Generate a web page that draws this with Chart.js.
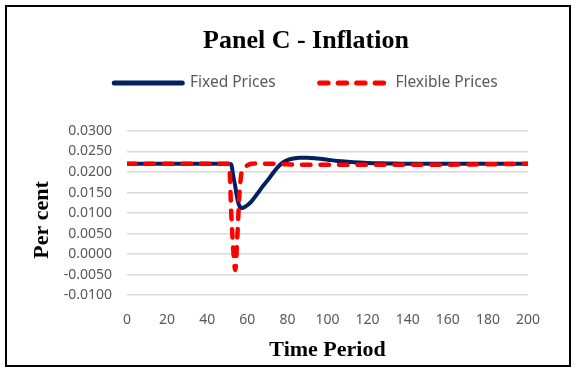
<!DOCTYPE html>
<html>
<head>
<meta charset="utf-8">
<title>Panel C - Inflation</title>
<script src="https://cdn.jsdelivr.net/npm/chart.js@4/dist/chart.umd.min.js"></script>
<style>
  html, body { margin: 0; padding: 0; background: #fff; overflow: hidden; }
  #wrap { position: relative; width: 577px; height: 369px; background: #fff; overflow: hidden; }
  #chart { position: absolute; left: 0; top: 0; }
  #frame { position: absolute; left: 5px; top: 5px; width: 562px; height: 358px;
           border: 2px solid #000; pointer-events: none; }
</style>
</head>
<body>
<div id="wrap">
  <canvas id="chart" width="586" height="369"></canvas>
  <div id="frame"></div>
</div>
<script>
// Time periods at which the two inflation paths are sampled
const periods = [0, 25, 50, 51, 52, 53, 54, 55, 56, 57, 58, 60, 62, 65, 68, 70, 72, 74,
                 76, 78, 80, 83, 86, 90, 95, 100, 105, 110, 120, 130, 140, 160, 180, 200];

// Inflation (per cent) under fixed prices
const fixedPrices = [0.0220, 0.0220, 0.0220, 0.0220, 0.0218, 0.0190, 0.0165, 0.0135, 0.0118,
                     0.0112, 0.0113, 0.0119, 0.0128, 0.0147, 0.0167, 0.0179, 0.0192, 0.0205,
                     0.0216, 0.0224, 0.0229, 0.0233, 0.0235, 0.0235, 0.0233, 0.0230, 0.0227,
                     0.0225, 0.0222, 0.0221, 0.0220, 0.0220, 0.0220, 0.0220];

// Inflation (per cent) under flexible prices
const flexiblePrices = [0.0220, 0.0220, 0.0220, 0.0215, 0.0100, 0.0010, -0.0039, 0.0040, 0.0140,
                        0.0195, 0.0207, 0.0216, 0.0220, 0.0221, 0.0220, 0.0220, 0.0220, 0.0220,
                        0.0219, 0.0219, 0.0219, 0.0218, 0.0218, 0.0218, 0.0218, 0.0218, 0.0218,
                        0.0218, 0.0218, 0.0218, 0.0218, 0.0218, 0.0219, 0.0220];

// Axis tick values
const xTicks = [0, 20, 40, 60, 80, 100, 120, 140, 160, 180, 200];
const yTicks = [-0.01, -0.005, 0, 0.005, 0.01, 0.015, 0.02, 0.025, 0.03];

const seriesNames = ['Fixed Prices', 'Flexible Prices'];

const toPoints = (values) => periods.map((p, i) => ({ x: p, y: values[i] }));

const labelFont = { family: "'Noto Sans', 'Open Sans', sans-serif", size: 14 };
const serifBold = (size) => ({ family: "'Liberation Serif', 'Times New Roman', serif", size, weight: 'bold', lineHeight: 1.2 });

// Legend swatches: a short stroke in each series' own line style
const legendLabels = (chart) =>
  Chart.defaults.plugins.legend.labels.generateLabels(chart).map((item) => {
    const ds = chart.data.datasets[item.datasetIndex];
    item.lineDash = ds.borderDash || [];
    item.lineCap = 'round';
    item.lineWidth = 5;
    item.pointStyle = 'line';
    return item;
  });

new Chart(document.getElementById('chart'), {
  type: 'line',
  data: {
    datasets: [
      {
        label: seriesNames[0],
        data: toPoints(fixedPrices),
        borderColor: '#002060',
        backgroundColor: '#002060',
        borderWidth: 4,
        borderCapStyle: 'round',
        borderJoinStyle: 'round',
        pointRadius: 0,
        cubicInterpolationMode: 'monotone',
        fill: false,
        yAxisID: 'y',
        order: 2
      },
      {
        label: seriesNames[1],
        data: toPoints(flexiblePrices),
        borderColor: '#ff0000',
        backgroundColor: '#ff0000',
        borderWidth: 4.5,
        borderDash: [8.5, 10],
        borderCapStyle: 'round',
        borderJoinStyle: 'round',
        pointRadius: 0,
        cubicInterpolationMode: 'monotone',
        fill: false,
        yAxisID: 'y',
        order: 1
      }
    ]
  },
  options: {
    responsive: false,
    animation: false,
    devicePixelRatio: 1,
    events: [],
    layout: { padding: { left: 26, right: 0, top: 0, bottom: 3 } },
    plugins: {
      title: {
        display: true,
        text: 'Panel C - Inflation',
        color: '#000',
        font: serifBold(26),
        padding: { top: 25.4, bottom: -25.35 }
      },
      legend: {
        display: true,
        position: 'top',
        labels: {
          usePointStyle: true,
          pointStyle: 'line',
          pointStyleWidth: 68,
          padding: 44,
          color: '#595959',
          font: { family: "'Noto Sans', 'Open Sans', sans-serif", size: 15.5 },
          generateLabels: legendLabels,
          sort: (a, b) => a.datasetIndex - b.datasetIndex
        }
      },
      // empty spacer between the legend and the plot area
      subtitle: {
        display: true,
        text: '',
        weight: 500,
        font: { size: 10, lineHeight: 1 },
        padding: { top: 20.25, bottom: 0 }
      },
      tooltip: { enabled: false }
    },
    scales: {
      x: {
        type: 'linear',
        min: 0,
        max: 200,
        afterBuildTicks: (scale) => { scale.ticks = xTicks.map(v => ({ value: v })); },
        grid: { display: false, drawTicks: false },
        border: { display: false },
        ticks: { color: '#595959', font: labelFont, padding: 2.6, maxRotation: 0, autoSkip: false },
        title: {
          display: true,
          text: 'Time Period',
          color: '#000',
          font: serifBold(22),
          padding: { top: 5.8, bottom: 2.8 }
        }
      },
      y: {
        type: 'linear',
        position: 'left',
        min: -0.0134,
        max: 0.03,
        afterBuildTicks: (scale) => { scale.ticks = yTicks.map(v => ({ value: v })); },
        afterFit: (scale) => { scale.width = 101; },
        grid: { color: '#d9d9d9', lineWidth: 1.5, drawTicks: false },
        border: { display: false },
        ticks: {
          color: '#595959',
          font: labelFont,
          padding: 15,
          autoSkip: false,
          callback: (v) => Number(v).toFixed(4)
        },
        title: {
          display: true,
          text: 'Per cent',
          color: '#000',
          font: serifBold(22),
          padding: { top: 2.8, bottom: 0 }
        }
      },
      // blank right-hand margin of the plot area
      margin: {
        type: 'linear',
        position: 'right',
        display: true,
        afterFit: (scale) => { scale.width = 58; },
        grid: { display: false, drawTicks: false },
        border: { display: false },
        ticks: { display: false }
      }
    }
  }
});
</script>
</body>
</html>
